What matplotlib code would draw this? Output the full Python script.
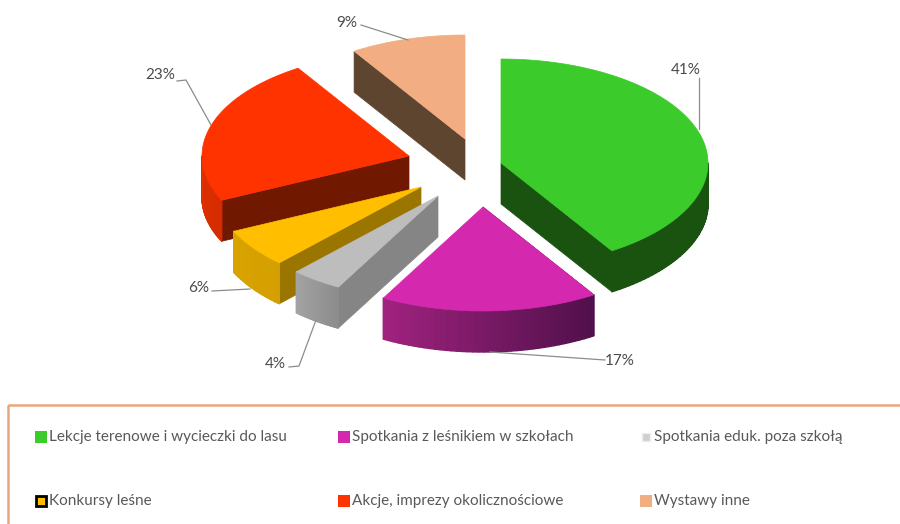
import numpy as np
import matplotlib
matplotlib.use("Agg")
import matplotlib.pyplot as plt
from matplotlib.patches import Polygon, Rectangle
from matplotlib.colors import to_rgb

plt.rcParams["font.family"] = ["Lato", "DejaVu Sans"]

categories = ["Lekcje terenowe i wycieczki do lasu", "Spotkania z leśnikiem w szkołach",
              "Spotkania eduk. poza szkołą", "Konkursy leśne",
              "Akcje, imprezy okolicznościowe", "Wystawy inne"]
shares = [41, 17, 4, 6, 23, 9]
pct_labels = ["41%", "17%", "4%", "6%", "23%", "9%"]

top_colors = ["#3BCB2A", "#D428AE", "#BDBDBD", "#FFBE00", "#FF3300", "#F2AE82"]
side_left = ["#1A5210", "#A0227F", "#A3A3A3", "#D9A400", "#E03000", "#5E4530"]
side_right = ["#1A5210", "#4F104A", "#8C8C8C", "#D49F00", "#D42C00", "#5E4530"]
cut_colors = ["#1A5210", "#5A1050", "#858585", "#9A7600", "#701800", "#5E4530"]
# apex of every exploded slice, in pixels
apex = [(501, 163), (483, 207), (438, 196), (421, 187), (409, 156), (465, 139)]

RX, RY, DEPTH = 207, 104, 41

# centre of the label, then the leader line
label_pos = [(686, 70), (620, 361), (275, 364), (199, 288), (160, 75), (347, 23)]
leaders = [[(699, 78), (699, 129)],
           [(605, 360), (490, 352)],
           [(289, 367), (299, 366), (316, 320)],
           [(212, 291), (250, 289)],
           [(177, 81), (186, 80), (211, 125)],
           [(361, 25), (408, 40)]]

legend_rows = [437, 501]
legend_cols = [(35, 49), (338, 352), (640, 654)]


def rim(c, t0, t1, n=80):
    t = np.radians(np.linspace(t0, t1, n))
    return np.column_stack([c[0] + RX * np.sin(t), c[1] - RY * np.cos(t)])


fig = plt.figure(figsize=(9, 5.24), dpi=100)
ax = fig.add_axes([0, 0, 1, 1])
ax.set_xlim(0, 900)
ax.set_ylim(524, 0)
ax.axis("off")

edges = np.concatenate([[0], np.cumsum(shares)]) * 3.6

# back to front: orange, red, yellow, grey, green, magenta
for i in [5, 4, 3, 2, 0, 1]:
    c = apex[i]
    t0, t1 = edges[i], edges[i + 1]

    # flat cut face turned to the viewer
    cut_t = t1 if i == 0 else t0
    p = rim(c, cut_t, cut_t, 1)[0]
    ax.add_patch(Polygon([c, p, (p[0], p[1] + DEPTH), (c[0], c[1] + DEPTH)],
                         fc=cut_colors[i], ec=cut_colors[i], lw=0.5))

    # outer wall, only the part facing front
    a, b = max(t0, 90), min(t1, 270)
    if b > a:
        n = 40
        ts = np.linspace(a, b, n + 1)
        left, right = np.array(to_rgb(side_left[i])), np.array(to_rgb(side_right[i]))
        for k in range(n):
            # going clockwise from the right side to the left side
            f = 1 - (k + 0.5) / n
            seg = rim(c, ts[k], ts[k + 1], 4)
            col = left + (right - left) * f
            poly = np.vstack([seg, seg[::-1] + [0, DEPTH]])
            ax.add_patch(Polygon(poly, fc=col, ec=col, lw=1.0, joinstyle="round"))

    # top face
    ax.add_patch(Polygon(np.vstack([[c], rim(c, t0, t1)]), fc=top_colors[i],
                         ec=top_colors[i], lw=0.5))

for i in range(len(shares)):
    pts = np.array(leaders[i])
    ax.plot(pts[:, 0], pts[:, 1], color="#8C8C8C", lw=0.9)
    ax.text(label_pos[i][0], label_pos[i][1], pct_labels[i], color="#4A4A4A",
            fontsize=11, ha="center", va="center")

# legend box, runs off the right and bottom of the picture
ax.add_patch(Rectangle((8, 404.5), 1000, 200, fc="none", ec="#E8A67E", lw=1.8))
for i, name in enumerate(categories):
    y = legend_rows[i // 3]
    mx, tx = legend_cols[i % 3]
    if i == 2:
        ax.add_patch(Rectangle((mx + 2, y - 4), 8, 8, fc="#CFCFCF", ec="#EDEDED", lw=1))
    elif i == 3:
        ax.add_patch(Rectangle((mx + 1, y - 5), 10, 10, fc=top_colors[i], ec="black", lw=2))
    else:
        ax.add_patch(Rectangle((mx, y - 6), 12, 12, fc=top_colors[i], ec="none"))
    ax.text(tx, y, name, color="#595959", fontsize=11, ha="left", va="center")

plt.savefig("out.png", dpi=100)
print("saved out.png")
